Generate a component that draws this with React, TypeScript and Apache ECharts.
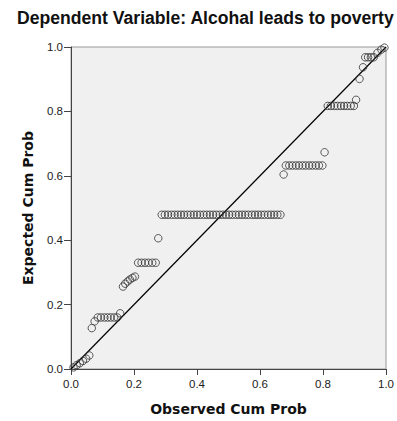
import React, { useEffect, useRef } from "react";
import * as echarts from "echarts";

const titleText = "Dependent Variable: Alcohal leads to poverty";
const xAxisTitle = "Observed Cum Prob";
const yAxisTitle = "Expected Cum Prob";
const axisTicks = [0, 0.2, 0.4, 0.6, 0.8, 1.0];

const observed = [
  0.008, 0.018, 0.028, 0.038, 0.048, 0.058,
  0.066, 0.075,
  0.085, 0.095, 0.106, 0.116, 0.126, 0.137, 0.147,
  0.156,
  0.165, 0.172, 0.18, 0.187, 0.195, 0.203,
  0.213, 0.224, 0.235, 0.246, 0.258, 0.269,
  0.277,
  0.288, 0.298, 0.308, 0.319, 0.329, 0.339, 0.349, 0.359, 0.37, 0.38,
  0.39, 0.4, 0.41, 0.421, 0.431, 0.441, 0.451, 0.461, 0.472, 0.482,
  0.492, 0.502, 0.512, 0.523, 0.533, 0.543, 0.553, 0.563, 0.574, 0.584,
  0.594, 0.604, 0.614, 0.625, 0.635, 0.645, 0.655, 0.665,
  0.675,
  0.682, 0.693, 0.703, 0.714, 0.724, 0.735, 0.745, 0.756, 0.766, 0.777, 0.787, 0.798,
  0.805,
  0.815, 0.825, 0.836, 0.846, 0.857, 0.867, 0.877, 0.888, 0.898,
  0.905, 0.916, 0.927,
  0.934, 0.943, 0.952, 0.961,
  0.973, 0.985, 0.995,
];

const expected = [
  0.005, 0.012, 0.018, 0.025, 0.032, 0.042,
  0.127, 0.148,
  0.16, 0.16, 0.16, 0.16, 0.16, 0.16, 0.16,
  0.173,
  0.256, 0.265, 0.272, 0.278, 0.283, 0.287,
  0.33, 0.33, 0.33, 0.33, 0.33, 0.33,
  0.406,
  0.479, 0.479, 0.479, 0.479, 0.479, 0.479, 0.479, 0.479, 0.479, 0.479,
  0.479, 0.479, 0.479, 0.479, 0.479, 0.479, 0.479, 0.479, 0.479, 0.479,
  0.479, 0.479, 0.479, 0.479, 0.479, 0.479, 0.479, 0.479, 0.479, 0.479,
  0.479, 0.479, 0.479, 0.479, 0.479, 0.479, 0.479, 0.479,
  0.604,
  0.632, 0.632, 0.632, 0.632, 0.632, 0.632, 0.632, 0.632, 0.632, 0.632, 0.632, 0.632,
  0.673,
  0.817, 0.817, 0.817, 0.817, 0.817, 0.817, 0.817, 0.817, 0.817,
  0.836, 0.901, 0.937,
  0.968, 0.968, 0.968, 0.968,
  0.982, 0.992, 0.998,
];

const referenceLine = [
  [0, 0],
  [1, 1],
];

export default function App() {
  const ref = useRef<HTMLDivElement>(null);

  useEffect(() => {
    if (!ref.current) return;
    const chart = echarts.init(ref.current, undefined, { renderer: "svg" });
    const points = observed.map((x, i) => [x, expected[i]]);
    const labelStyle = {
      fontFamily: "Liberation Sans",
      fontSize: 11.5,
      color: "#222",
    };
    const nameStyle = {
      fontFamily: "DejaVu Sans",
      fontWeight: "bold" as const,
      fontSize: 14,
      color: "#111",
    };
    chart.setOption({
      animation: false,
      backgroundColor: "#ffffff",
      title: {
        text: titleText,
        left: 17,
        top: 9,
        padding: 0,
        textStyle: {
          fontFamily: "Liberation Sans",
          fontWeight: "bold",
          fontSize: 17.6,
          color: "#111",
        },
      },
      grid: {
        left: 71,
        right: 5,
        top: 47,
        bottom: 51,
        show: true,
        backgroundColor: "#f0f0f0",
        borderColor: "#999",
        borderWidth: 1,
      },
      xAxis: {
        type: "value",
        min: axisTicks[0],
        max: axisTicks[axisTicks.length - 1],
        interval: 0.2,
        name: xAxisTitle,
        nameLocation: "middle",
        nameGap: 33,
        nameTextStyle: nameStyle,
        axisLine: { show: true, lineStyle: { color: "#444", width: 1 } },
        axisTick: { show: true, length: 6, lineStyle: { color: "#444" } },
        splitLine: { show: false },
        axisLabel: {
          ...labelStyle,
          margin: 9,
          formatter: (v: number) => v.toFixed(1),
        },
      },
      yAxis: {
        type: "value",
        min: axisTicks[0],
        max: axisTicks[axisTicks.length - 1],
        interval: 0.2,
        name: yAxisTitle,
        nameLocation: "middle",
        nameRotate: 90,
        nameGap: 36,
        nameTextStyle: nameStyle,
        axisLine: { show: true, lineStyle: { color: "#444", width: 1 } },
        axisTick: { show: true, length: 7, lineStyle: { color: "#444" } },
        splitLine: { show: false },
        axisLabel: {
          ...labelStyle,
          margin: 8,
          formatter: (v: number) => v.toFixed(1),
        },
      },
      series: [
        {
          type: "line",
          data: referenceLine,
          symbol: "none",
          lineStyle: { color: "#000", width: 1.2 },
          z: 3,
        },
        {
          type: "scatter",
          data: points,
          symbol: "circle",
          symbolSize: 7.5,
          itemStyle: {
            color: "rgba(0,0,0,0)",
            borderColor: "#333",
            borderWidth: 1,
          },
          z: 4,
        },
      ],
    });
    return () => chart.dispose();
  }, []);

  return (
    <div
      ref={ref}
      style={{ position: "fixed", left: 0, top: 0, width: 397, height: 421 }}
    />
  );
}
